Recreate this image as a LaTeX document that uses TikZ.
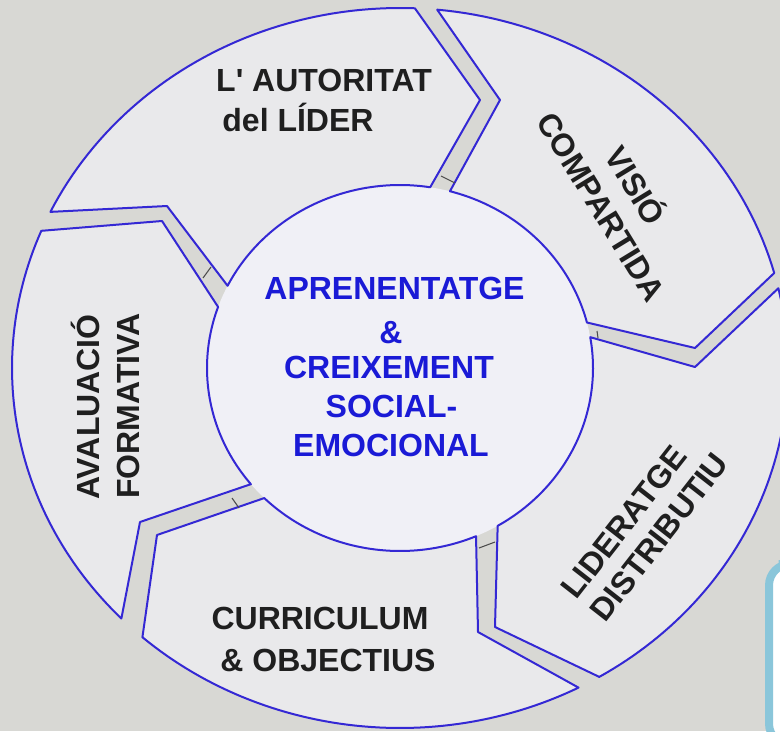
\documentclass[tikz,border=0pt]{standalone}
\usepackage{fontspec}
\setmainfont{Liberation Sans}
\definecolor{bgc}{RGB}{216,216,212}
\definecolor{segc}{RGB}{233,233,235}
\definecolor{cenc}{RGB}{240,240,246}
\definecolor{linec}{RGB}{52,40,212}
\definecolor{ctext}{RGB}{26,26,214}
\definecolor{tealc}{RGB}{138,198,218}
\tikzset{
  seg/.style={draw=linec, line width=1.5pt, fill=segc, line join=round},
  lbl/.style={font=\fontsize{24}{28}\selectfont\bfseries, text=black!88, text height=16.6pt, text depth=0pt, inner sep=0pt},
  clbl/.style={lbl, text=ctext},
  gaptick/.style={draw=black!70, line width=0.8pt},
}
\begin{document}
\begin{tikzpicture}[x=0.75pt,y=-0.75pt]
\def\CX{400}\def\CY{368}\def\ORX{388}\def\ORY{360}\def\IRX{193}\def\IRY{183}
\useasboundingbox (0,0) rectangle (780,731);
\clip (0,0) rectangle (780,731);
\fill[bgc] (0,0) rectangle (780,731);
% centre disc
\fill[cenc] plot[domain=0:360,samples=120] ({\CX+\IRX*cos(\x)},{\CY+\IRY*sin(\x)}) -- cycle;
% L' AUTORITAT
\draw[seg] (480,100) -- plot[domain=-87.8:-154.3,samples=50] ({\CX+\ORX*cos(\x)},{\CY+\ORY*sin(\x)})
  -- (167,206) -- plot[domain=-153.3:-81,samples=50] ({\CX+\IRX*cos(\x)},{\CY+\IRY*sin(\x)}) -- cycle;
% VISIO
\draw[seg] (695,348) -- plot[domain=-15.3:-84.5,samples=50] ({\CX+\ORX*cos(\x)},{\CY+\ORY*sin(\x)})
  -- (500,100) -- plot[domain=-75:-14.4,samples=50] ({\CX+\IRX*cos(\x)},{\CY+\IRY*sin(\x)}) -- cycle;
% LIDERATGE
\draw[seg] (495,627) -- plot[domain=59.1:-12.8,samples=60] ({\CX+\ORX*cos(\x)},{\CY+\ORY*sin(\x)})
  -- (695,367) -- plot[domain=-9.7:59.6,samples=50] ({\CX+\IRX*cos(\x)},{\CY+\IRY*sin(\x)}) -- cycle;
% CURRICULUM
\draw[seg] (157,535) -- plot[domain=131.6:62.6,samples=60] ({\CX+\ORX*cos(\x)},{\CY+\ORY*sin(\x)})
  -- (478,632) -- plot[domain=66.8:134.7,samples=50] ({\CX+\IRX*cos(\x)},{\CY+\IRY*sin(\x)}) -- cycle;
% AVALUACIO
\draw[seg] (162,221) -- plot[domain=202.4:135.9,samples=60] ({\CX+\ORX*cos(\x)},{\CY+\ORY*sin(\x)})
  -- (140,522) -- plot[domain=140.6:199.5,samples=50] ({\CX+\IRX*cos(\x)},{\CY+\IRY*sin(\x)}) -- cycle;
% small ticks in the gaps
\coordinate (t1a) at (203,278); \coordinate (t1b) at (211,267);
\coordinate (t2a) at (441,176); \coordinate (t2b) at (455,183);
\coordinate (t3a) at (597,331); \coordinate (t3b) at (598,338);
\coordinate (t4a) at (479,548); \coordinate (t4b) at (495,542);
\coordinate (t5a) at (232,498); \coordinate (t5b) at (239,508);
\draw[gaptick] (t1a) -- (t1b);
\draw[gaptick] (t2a) -- (t2b);
\draw[gaptick] (t3a) -- (t3b);
\draw[gaptick] (t4a) -- (t4b);
\draw[gaptick] (t5a) -- (t5b);
% labels
\node[lbl] (aut1) at (324,80) {L\textquotesingle{} AUTORITAT};
\node[lbl] (aut2) at (298,120) {del LÍDER};
\node[lbl, rotate=-58.6] (vis1) at (635,186) {VISIÓ};
\node[lbl, rotate=-58.6] (vis2) at (601,207) {COMPARTIDA};
\node[lbl, rotate=52] (lid1) at (624,522) {LIDERATGE};
\node[lbl, rotate=52] (lid2) at (659,537) {DISTRIBUTIU};
\node[lbl] (cur1) at (320,618) {CURRICULUM};
\node[lbl] (cur2) at (328,660) {\& OBJECTIUS};
\node[lbl, rotate=90] (ava1) at (88,407) {AVALUACIÓ};
\node[lbl, rotate=90] (ava2) at (128,406) {FORMATIVA};
\node[clbl] (c1) at (394.5,288) {APRENENTATGE};
\node[clbl] (c2) at (391,332) {\&};
\node[clbl] (c3) at (389,367) {CREIXEMENT};
\node[clbl] (c4) at (391.5,406) {SOCIAL-};
\node[clbl] (c5) at (391,445) {EMOCIONAL};
% corner panel
\draw[tealc, line width=6pt, fill=white, rounded corners=16pt] (769,745) -- (769,564) -- (800,564) -- (800,745) -- cycle;
\end{tikzpicture}
\end{document}
